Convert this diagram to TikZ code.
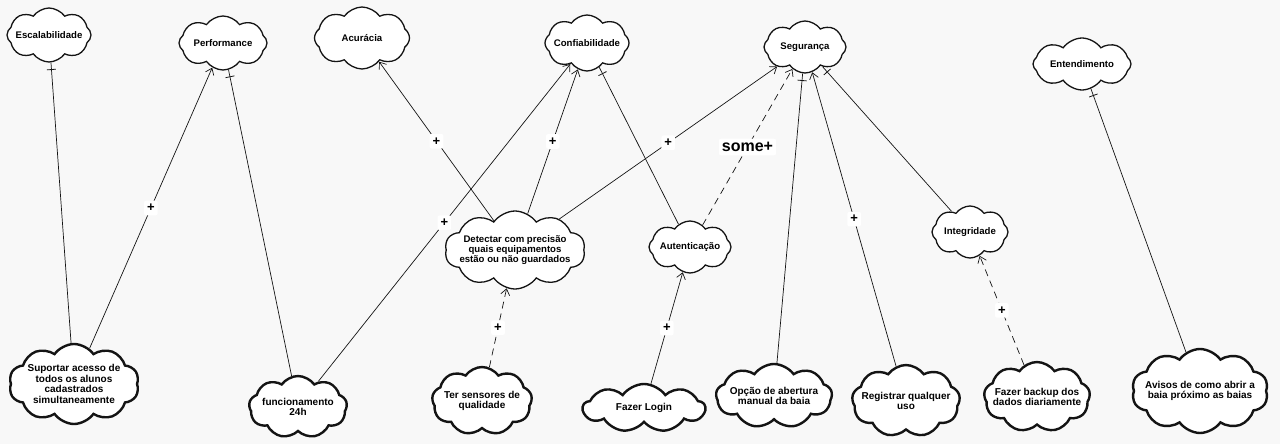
\documentclass[tikz,border=0pt]{standalone}
\usepackage{fontspec}
\setmainfont{Liberation Sans}
\usetikzlibrary{shapes.symbols, arrows.meta, decorations.markings}

\definecolor{canvas}{RGB}{248,248,248}
\definecolor{ink}{RGB}{20,20,20}

\begin{document}
\begin{tikzpicture}[x=1pt, y=-1pt,
  goalcloud/.style={cloud, cloud puffs=8, cloud puff arc=110, cloud ignores aspect, draw=ink, fill=white,
    line width=1.3pt, inner sep=-5pt, align=center,
    font=\fontsize{9.6}{10.4}\selectfont\bfseries},
  taskcloud/.style={goalcloud, cloud puffs=9, line width=2.4pt,
    font=\fontsize{10}{10.4}\selectfont\bfseries},
  link/.style={draw=ink, line width=0.7pt},
  help/.style={link, -{Straight Barb[length=6pt,width=9pt]}},
  helpdash/.style={help, dash pattern=on 7pt off 5pt},
  tickend/.style={link, postaction={decorate, decoration={markings,
    mark=at position -7pt with {\draw[ink, line width=0.8pt] (0pt,-4.5pt) -- (0pt,4.5pt);}}}},
  plus/.style={fill=white, rounded corners=2pt, inner xsep=3pt, inner ysep=3.5pt,
    font=\fontsize{13}{13}\selectfont\bfseries},
  somelbl/.style={plus, font=\fontsize{16}{16}\selectfont\bfseries}
]
\useasboundingbox (0,0) rectangle (1280,444);
\fill[canvas] (0,0) rectangle (1280,444);

% softgoals along the top
\node[goalcloud, minimum width=84pt, minimum height=54pt] (escal) at (49,35) {Escalabilidade};
\node[goalcloud, minimum width=88pt, minimum height=54pt] (perf) at (223,43) {Performance};
\node[goalcloud, minimum width=95pt, minimum height=62pt] (acur) at (362,38) {Acurácia};
\node[goalcloud, minimum width=84pt, minimum height=56pt] (confi) at (587,43) {Confiabilidade};
\node[goalcloud, minimum width=82pt, minimum height=52pt] (segur) at (805,47) {Segurança};
\node[goalcloud, minimum width=98pt, minimum height=52pt] (enten) at (1082,64) {Entendimento};

% intermediate softgoals
\node[goalcloud, cloud puffs=10, minimum width=132pt, minimum height=78pt] (detect) at (515,250)
  {Detectar com precisão\\quais equipamentos\\estão ou não guardados};
\node[goalcloud, minimum width=82pt, minimum height=52pt] (auten) at (690,247) {Autenticação};
\node[goalcloud, minimum width=76pt, minimum height=52pt] (integ) at (970,232) {Integridade};

% operational softgoals at the bottom
\node[taskcloud, cloud puffs=10, minimum width=130pt, minimum height=80pt] (suport) at (74,384)
  {Suportar acesso de\\todos os alunos\\cadastrados\\simultaneamente};
\node[taskcloud, minimum width=98pt, minimum height=62pt] (func) at (298,407) {funcionamento\\24h};
\node[taskcloud, minimum width=100pt, minimum height=68pt] (sensor) at (482,401) {Ter sensores de\\qualidade};
\node[taskcloud, minimum width=122pt, minimum height=48pt] (login) at (644,408) {Fazer Login};
\node[taskcloud, minimum width=116pt, minimum height=64pt] (opcao) at (774,396) {Opção de abertura\\manual da baia};
\node[taskcloud, minimum width=108pt, minimum height=72pt] (regist) at (906,401) {Registrar qualquer\\uso};
\node[taskcloud, minimum width=92pt, minimum height=70pt] (backup) at (1037,397) {Fazer backup dos\\dados diariamente};
\node[taskcloud, cloud puffs=10, minimum width=136pt, minimum height=84pt] (avisos) at (1200,391) {Avisos de como abrir a\\baia próximo as baias};

% contribution links
\draw[tickend] (suport) -- (escal);
\draw[help] (suport) -- node[plus] {+} (perf);
\draw[tickend] (func) -- (perf);
\draw[help] (func) -- node[plus] {+} (confi);
\draw[help] (detect) -- node[plus] {+} (acur);
\draw[help] (detect) -- node[plus] {+} (confi);
\draw[help] (detect) -- node[plus] {+} (segur);
\draw[tickend] (auten) -- (confi);
\draw[helpdash] (auten) -- node[somelbl] {some+} (segur);
\draw[tickend] (opcao) -- (segur);
\draw[help] (regist) -- node[plus] {+} (segur);
\draw[tickend] (integ) -- (segur);
\draw[helpdash] (backup) -- node[plus] {+} (integ);
\draw[tickend] (avisos) -- (enten);
\draw[helpdash] (sensor) -- node[plus] {+} (detect);
\draw[help] (login) -- node[plus] {+} (auten);
\end{tikzpicture}
\end{document}
